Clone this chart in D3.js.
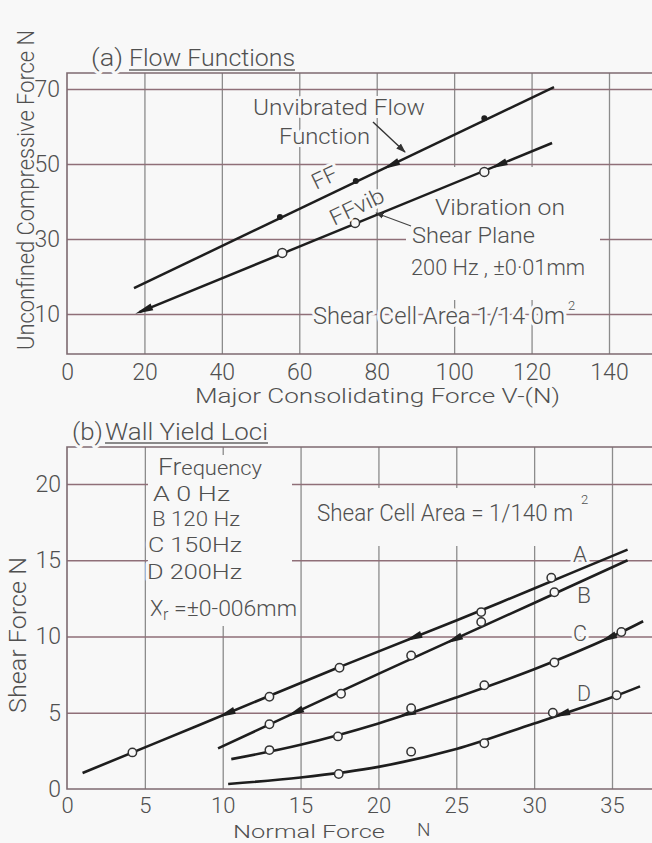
<!DOCTYPE html>
<html><head><meta charset="utf-8">
<script src="https://cdn.jsdelivr.net/npm/d3@7"></script>
<style>
html,body{margin:0;padding:0;background:#f8f8f8;}
svg{display:block;}
text{font-family:Roboto,Lato,'Open Sans',sans-serif;font-weight:300;fill:#505050;}
</style></head>
<body>
<script>
// ---------- DATA: (a) Flow functions ----------
const flowXTicks = [0, 20, 40, 60, 80, 100, 120, 140];
const flowYTicks = [10, 30, 50, 70];
const ffLine = [[17.3, 16.9], [125.8, 70.5]];
const ffPoints = [[55, 35.9], [74.6, 45.5], [107.8, 62.2]];
const ffvibLine = [[18.7, 10.5], [125.3, 55.6]];
const ffvibPoints = [[55.6, 26.3], [74.4, 34.3], [107.8, 47.9]];
const ffMarks = [[84.3, 50]];
const ffvibMarks = [[20.5, 11.3], [112.1, 50]];

// ---------- DATA: (b) Wall yield loci ----------
const wallXTicks = [0, 5, 10, 15, 20, 25, 30, 35];
const wallYTicks = [0, 5, 10, 15, 20];
const curveA = [[1, 1.05], [8.5, 4.2], [17.5, 8.0], [25, 11.05], [30, 13.15], [36, 15.7]];
const curveB = [[9.7, 2.66], [20, 7.55], [30, 12.2], [36, 15.0]];
const curveC = [[10.55, 1.96], [15, 2.9], [20, 4.3], [25, 6.0], [30, 7.85], [35, 10.0], [37, 11.0]];
const curveD = [[10.35, 0.33], [15, 0.75], [20, 1.45], [25, 2.62], [30, 4.3], [35, 6.02], [36.8, 6.73]];
const pointsA = [[4.2, 2.4], [13, 6.05], [17.5, 7.95], [26.6, 11.6], [31.1, 13.85]];
const pointsB = [[13, 4.25], [17.6, 6.25], [22.1, 8.75], [26.6, 10.95], [31.3, 12.9]];
const pointsC = [[13, 2.55], [17.4, 3.45], [22.1, 5.3], [26.8, 6.8], [31.3, 8.3], [35.6, 10.3]];
const pointsD = [[17.45, 0.98], [22.1, 2.45], [26.8, 3.0], [31.2, 5.0], [35.3, 6.15]];
const marksA = [10.4, 22.4];
const marksB = [14.8, 25.0];
const marksC = [22.0, 34.9];
const marksD = [31.9];
const curveNames = ["A", "B", "C", "D"];
const legendLines = ["A  0 Hz", "B  120 Hz", "C  150Hz", "D  200Hz"];

// ---------- drawing ----------
const W = 652, H = 843, BG = "#f8f8f8";
const GRID_H = "#8f6f78", GRID_V = "#8c8c8c", FRAME = "#7d6a70", INK = "#1e1e1e";

const svg = d3.select("body").append("svg").attr("width", W).attr("height", H);
svg.append("rect").attr("width", W).attr("height", H).attr("fill", BG);

function txt(g, s, x, y, size, opt = {}) {
  const t = g.append("text").attr("x", x).attr("y", y).attr("font-size", size).text(s);
  if (opt.anchor) t.attr("text-anchor", opt.anchor);
  if (opt.width) t.attr("textLength", opt.width).attr("lengthAdjust", "spacingAndGlyphs");
  if (opt.rotate !== undefined) t.attr("transform", `rotate(${opt.rotate},${x},${y})`);
  if (opt.halo !== false) t.attr("stroke", BG).attr("stroke-width", 6).attr("paint-order", "stroke").attr("stroke-linejoin", "round");
  return t;
}
function blank(g, x0, y0, x1, y1) {
  g.append("rect").attr("x", x0).attr("y", y0).attr("width", x1 - x0).attr("height", y1 - y0).attr("fill", BG);
}
function wedge(g, px, py, angRad) {
  const c = Math.cos(angRad), s = Math.sin(angRad);
  const P = (u, v) => [px + u * c - v * s, py + u * s + v * c];
  const pts = [P(-12, 0), P(6, -3.6), P(6, 3.6)];
  g.append("path").attr("d", "M" + pts.map(p => p.join(",")).join("L") + "Z").attr("fill", INK);
}
function interpY(curve, x) {
  for (let i = 0; i < curve.length - 1; i++) {
    const [x0, y0] = curve[i], [x1, y1] = curve[i + 1];
    if (x >= x0 && x <= x1) return y0 + (y1 - y0) * (x - x0) / (x1 - x0);
  }
  return curve[curve.length - 1][1];
}

const defs = svg.append("defs");
defs.append("marker").attr("id", "ah").attr("viewBox", "0 0 10 10").attr("refX", 9).attr("refY", 5)
  .attr("markerWidth", 7).attr("markerHeight", 7).attr("orient", "auto")
  .append("path").attr("d", "M0,1.5L10,5L0,8.5Z").attr("fill", "#333");

// ===== Panel (a) =====
const xa = d3.scaleLinear().domain([0, 140]).range([67, 609]);
const ya = d3.scaleLinear().domain([10, 70]).range([314, 89]);
const ga = svg.append("g");
const aTop = 73, aBottom = 354, aLeft = 67, aRight = 660;

ga.append("g").attr("transform", `translate(0,${aBottom})`)
  .call(d3.axisBottom(xa).tickValues(flowXTicks.filter(d => d > 0)).tickSize(-(aBottom - aTop)).tickFormat(""))
  .call(g => g.select(".domain").remove())
  .call(g => g.selectAll("line").attr("stroke", GRID_V).attr("stroke-width", 1.3));
ga.append("g").attr("transform", `translate(${aLeft},0)`)
  .call(d3.axisLeft(ya).tickValues(flowYTicks).tickSize(-(aRight - aLeft)).tickFormat(""))
  .call(g => g.select(".domain").remove())
  .call(g => g.selectAll("line").attr("stroke", GRID_H).attr("stroke-width", 1.5));
blank(ga, 406, 167, 600, 300);
ga.append("path").attr("d", `M${aRight},${aTop}H${aLeft}V${aBottom}H${aRight}`)
  .attr("fill", "none").attr("stroke", FRAME).attr("stroke-width", 1.6);
ga.append("g").attr("transform", `translate(0,${aBottom})`)
  .call(d3.axisBottom(xa).tickValues(flowXTicks).tickSize(0).tickPadding(10))
  .call(g => g.select(".domain").remove())
  .call(g => g.selectAll("text").attr("font-size", 23).attr("fill", "#555").attr("dy", "0.71em"));
ga.append("g").attr("transform", `translate(${aLeft},0)`)
  .call(d3.axisLeft(ya).tickValues(flowYTicks).tickSize(0).tickPadding(7))
  .call(g => g.select(".domain").remove())
  .call(g => g.selectAll("text").attr("font-size", 23).attr("fill", "#555"));
svg.selectAll("g[font-family]").attr("font-family", null).attr("font-size", null);

txt(ga, "(a)", 91, 66, 23, { width: 32 });
txt(ga, "Flow Functions", 129, 66, 23, { width: 166 });
ga.append("line").attr("x1", 129).attr("x2", 295).attr("y1", 70).attr("y2", 70).attr("stroke", "#666").attr("stroke-width", 1.4);
txt(ga, "Unconfined Compressive Force N", 34, 350, 24, { rotate: -90, width: 320, halo: false });
txt(ga, "Major  Consolidating  Force  V-(N)", 195, 403, 21, { width: 365 });
txt(ga, "Unvibrated Flow", 253, 115, 22, { width: 172 });
txt(ga, "Function", 279, 144, 22, { width: 91 });
txt(ga, "Vibration on", 435, 215, 22, { width: 130 });
txt(ga, "Shear Plane", 412, 243, 22, { width: 123 });
txt(ga, "200 Hz , \u00b10\u00b701mm", 411, 275, 22, { width: 174 });
txt(ga, "Shear Cell Area  1/14 0m", 313, 324, 23, { width: 252 });
txt(ga, "2", 568, 310, 13, { halo: false });

const lineA = d3.line().x(d => xa(d[0])).y(d => ya(d[1]));
ga.append("path").attr("d", lineA(ffLine)).attr("fill", "none").attr("stroke", INK).attr("stroke-width", 2.5);
ga.append("path").attr("d", lineA(ffvibLine)).attr("fill", "none").attr("stroke", INK).attr("stroke-width", 2.5);
const angOf = l => Math.atan2(ya(l[1][1]) - ya(l[0][1]), xa(l[1][0]) - xa(l[0][0]));
ffMarks.forEach(m => wedge(ga, xa(m[0]), ya(m[1]), angOf(ffLine)));
ffvibMarks.forEach(m => wedge(ga, xa(m[0]), ya(m[1]), angOf(ffvibLine)));
ga.selectAll(".ffp").data(ffPoints).join("circle").attr("cx", d => xa(d[0])).attr("cy", d => ya(d[1]))
  .attr("r", 3).attr("fill", INK);
ga.selectAll(".ffv").data(ffvibPoints).join("circle").attr("cx", d => xa(d[0])).attr("cy", d => ya(d[1]))
  .attr("r", 4.5).attr("fill", BG).attr("stroke", "#333").attr("stroke-width", 1.5);

const ang = angOf(ffLine) * 180 / Math.PI;
txt(ga, "FF", 316, 190, 22, { rotate: ang, width: 26 });
txt(ga, "FFvib", 334, 226, 22, { rotate: ang, width: 58 });

ga.append("line").attr("x1", 373).attr("y1", 122).attr("x2", 405).attr("y2", 152)
  .attr("stroke", "#333").attr("stroke-width", 1.4).attr("marker-end", "url(#ah)");
ga.append("line").attr("x1", 411).attr("y1", 226).attr("x2", 376).attr("y2", 213)
  .attr("stroke", "#444").attr("stroke-width", 1.2).attr("marker-end", "url(#ah)");

// ===== Panel (b) =====
const xb = d3.scaleLinear().domain([0, 35]).range([67, 612]);
const yb = d3.scaleLinear().domain([0, 20]).range([789, 484]);
const gb = svg.append("g");
const bTop = 447, bBottom = 789, bLeft = 67, bRight = 660;

gb.append("g").attr("transform", `translate(0,${bBottom})`)
  .call(d3.axisBottom(xb).tickValues(wallXTicks.filter(d => d > 0)).tickSize(-(bBottom - bTop)).tickFormat(""))
  .call(g => g.select(".domain").remove())
  .call(g => g.selectAll("line").attr("stroke", GRID_V).attr("stroke-width", 1.3));
gb.append("g").attr("transform", `translate(${bLeft},0)`)
  .call(d3.axisLeft(yb).tickValues(wallYTicks.filter(d => d > 0)).tickSize(-(bRight - bLeft)).tickFormat(""))
  .call(g => g.select(".domain").remove())
  .call(g => g.selectAll("line").attr("stroke", GRID_H).attr("stroke-width", 1.5));
blank(gb, 148, 455, 292, 626);
blank(gb, 310, 488, 600, 546);
gb.append("path").attr("d", `M${bRight},${bTop}H${bLeft}V${bBottom}H${bRight}`)
  .attr("fill", "none").attr("stroke", FRAME).attr("stroke-width", 1.6);
gb.append("g").attr("transform", `translate(0,${bBottom})`)
  .call(d3.axisBottom(xb).tickValues(wallXTicks).tickSize(0).tickPadding(8))
  .call(g => g.select(".domain").remove())
  .call(g => g.selectAll("text").attr("font-size", 22).attr("fill", "#555").attr("dy", "0.71em"));
gb.append("g").attr("transform", `translate(${bLeft},0)`)
  .call(d3.axisLeft(yb).tickValues(wallYTicks).tickSize(0).tickPadding(6))
  .call(g => g.select(".domain").remove())
  .call(g => g.selectAll("text").attr("font-size", 23).attr("fill", "#555"));
svg.selectAll("g[font-family]").attr("font-family", null).attr("font-size", null);

txt(gb, "(b)", 72, 440, 23, { width: 31 });
txt(gb, "Wall Yield Loci", 105, 440, 23, { width: 163 });
gb.append("line").attr("x1", 105).attr("x2", 268).attr("y1", 443).attr("y2", 443).attr("stroke", "#666").attr("stroke-width", 1.4);
txt(gb, "Shear Force N", 26, 713, 23, { rotate: -90, width: 156, halo: false });
txt(gb, "Normal  Force", 233, 838, 19, { width: 152 });
txt(gb, "N", 417, 836, 19, { halo: false });

const fq = gb.append("text").attr("x", 158).attr("y", 475).attr("textLength", 104).attr("lengthAdjust", "spacingAndGlyphs");
fq.append("tspan").attr("font-size", 24).text("Fr");
fq.append("tspan").attr("font-size", 20).text("equency");
const legY = [501, 526, 552, 579];
legendLines.forEach((s, i) => txt(gb, s, [153, 152, 148, 147][i], legY[i], 21, { width: [77, 88, 94, 95][i] }));
txt(gb, "X", 150, 616, 22, {});
txt(gb, "r", 163, 620, 16, {});
txt(gb, "=\u00b10-006mm", 174, 616, 22, { width: 123 });
txt(gb, "Shear Cell Area = 1/140 m", 317, 521, 23, { width: 256 });
txt(gb, "2", 581, 504, 13, { halo: false });

const curveLine = d3.line().x(d => xb(d[0])).y(d => yb(d[1])).curve(d3.curveCatmullRom.alpha(0.5));
const curves = [curveA, curveB, curveC, curveD];
const pts = [pointsA, pointsB, pointsC, pointsD];
const marks = [marksA, marksB, marksC, marksD];
const labelPos = [[573, 562], [577, 603], [573, 641], [577, 701]];
curveNames.forEach((n, i) => txt(gb, n, labelPos[i][0], labelPos[i][1], 22, { width: 14 }));
curves.forEach(c => gb.append("path").attr("d", curveLine(c)).attr("fill", "none").attr("stroke", INK).attr("stroke-width", 2.6));
marks.forEach((mk, i) => mk.forEach(x => {
  const y = interpY(curves[i], x);
  const a = Math.atan2(yb(interpY(curves[i], x + 0.5)) - yb(interpY(curves[i], x - 0.5)), xb(x + 0.5) - xb(x - 0.5));
  wedge(gb, xb(x), yb(y), a);
}));
pts.forEach(p => gb.selectAll(null).data(p).join("circle").attr("cx", d => xb(d[0])).attr("cy", d => yb(d[1]))
  .attr("r", 4.2).attr("fill", BG).attr("stroke", "#333").attr("stroke-width", 1.5));
</script>
</body></html>
